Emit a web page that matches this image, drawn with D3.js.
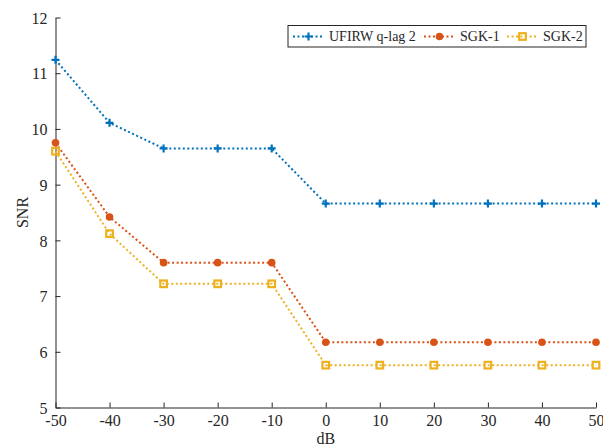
<!DOCTYPE html>
<html>
<head>
<meta charset="utf-8">
<script src="https://cdn.jsdelivr.net/npm/d3@7"></script>
<style>
  body { margin: 0; background: #fff; }
  text { font-family: "Liberation Serif", "Times New Roman", serif; fill: #262626; }
</style>
</head>
<body>
<svg id="chart"></svg>
<script>
// data
const xValues = [-50, -40, -30, -20, -10, 0, 10, 20, 30, 40, 50];
const ufirw = [11.24, 10.11, 9.65, 9.65, 9.65, 8.66, 8.66, 8.66, 8.66, 8.66, 8.66];
const sgk1 = [9.75, 8.42, 7.6, 7.6, 7.6, 6.17, 6.17, 6.17, 6.17, 6.17, 6.17];
const sgk2 = [9.6, 8.12, 7.22, 7.22, 7.22, 5.76, 5.76, 5.76, 5.76, 5.76, 5.76];
const xTicks = [-50, -40, -30, -20, -10, 0, 10, 20, 30, 40, 50];
const yTicks = [5, 6, 7, 8, 9, 10, 11, 12];

const series = [
  {name: 'UFIRW q-lag 2', values: ufirw, color: '#0072BD', marker: 'plus'},
  {name: 'SGK-1', values: sgk1, color: '#D95319', marker: 'circle'},
  {name: 'SGK-2', values: sgk2, color: '#EDB120', marker: 'square'}
];

const width = 603, height = 446;
const margin = {top: 17.5, right: 7, bottom: 38.5, left: 55.5};
const w = width - margin.left - margin.right;
const h = height - margin.top - margin.bottom;

const svg = d3.select('#chart').attr('width', width).attr('height', height);
const chart = svg.append('g').attr('transform', `translate(${margin.left},${margin.top})`);

const xScale = d3.scaleLinear().domain([-50, 50]).range([0, w]);
const yScale = d3.scaleLinear().domain([5, 12]).range([h, 0]);

// axes, ticks pointing inward like MATLAB
const xAxis = d3.axisBottom(xScale).tickValues(xTicks).tickFormat(d => String(d))
  .tickSizeInner(-5).tickSizeOuter(0).tickPadding(7);
const yAxis = d3.axisLeft(yScale).tickValues(yTicks).tickFormat(d => String(d))
  .tickSizeInner(-5).tickSizeOuter(0).tickPadding(8);

const xAxisG = chart.append('g').attr('transform', `translate(0,${h})`).call(xAxis);
const yAxisG = chart.append('g').call(yAxis);
[xAxisG, yAxisG].forEach(g => {
  g.select('.domain').attr('stroke', '#262626').attr('stroke-width', 1);
  g.selectAll('.tick line').attr('stroke', '#262626');
  g.selectAll('.tick text').style('font-size', '16px').attr('fill', '#262626');
});
yAxisG.selectAll('.tick text').attr('dy', '0.36em');

chart.append('text')
  .attr('x', w / 2).attr('y', h + 36)
  .attr('text-anchor', 'middle')
  .style('font-size', '16px')
  .text('dB');

chart.append('text')
  .attr('transform', 'rotate(-90)')
  .attr('x', -h / 2).attr('y', -28)
  .attr('text-anchor', 'middle')
  .style('font-size', '16px')
  .text('SNR');

const line = d3.line()
  .x((d, i) => xScale(xValues[i]))
  .y(d => yScale(d));

function drawMarker(g, type, color) {
  if (type === 'plus') {
    g.append('path').attr('d', 'M-4,0H4M0,-4V4').attr('stroke', color).attr('stroke-width', 2.2);
  } else if (type === 'circle') {
    g.append('circle').attr('r', 3.8).attr('fill', color);
  } else {
    g.append('rect').attr('x', -3.3).attr('y', -3.3).attr('width', 6.6).attr('height', 6.6)
      .attr('fill', 'none').attr('stroke', color).attr('stroke-width', 2.2);
  }
}

series.forEach(s => {
  chart.append('path')
    .datum(s.values)
    .attr('fill', 'none')
    .attr('stroke', s.color)
    .attr('stroke-width', 2)
    .attr('stroke-dasharray', '2,2.5')
    .attr('d', line);

  s.values.forEach((v, i) => {
    const g = chart.append('g').attr('transform', `translate(${xScale(xValues[i])},${yScale(v)})`);
    drawMarker(g, s.marker, s.color);
  });
});

// legend
const legend = svg.append('g').attr('transform', 'translate(288,25.5)');
legend.append('rect').attr('width', 298).attr('height', 21.5)
  .attr('fill', '#fff').attr('stroke', '#262626').attr('stroke-width', 1);
const legendX = [5, 136, 219];
series.forEach((s, i) => {
  const g = legend.append('g').attr('transform', `translate(${legendX[i]},11)`);
  g.append('line').attr('x1', 0).attr('x2', 31).attr('stroke', s.color)
    .attr('stroke-width', 2).attr('stroke-dasharray', '2,2.5');
  const m = g.append('g').attr('transform', 'translate(15.5,0)');
  drawMarker(m, s.marker, s.color);
  g.append('text').attr('x', 36).attr('dy', '0.35em')
    .style('font-size', '14px').text(s.name);
});
</script>
</body>
</html>
